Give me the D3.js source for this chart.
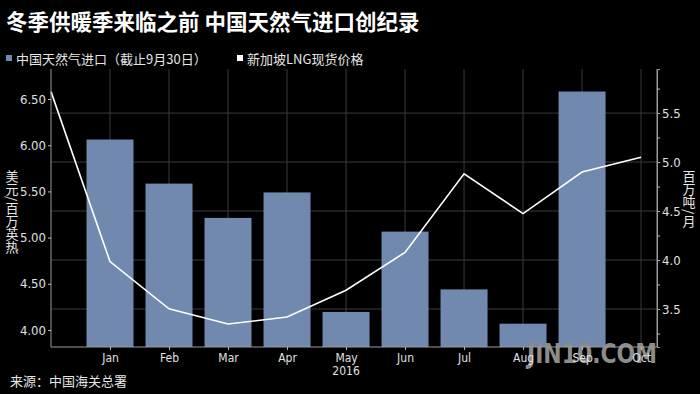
<!DOCTYPE html>
<html><head><meta charset="utf-8">
<script src="https://cdn.jsdelivr.net/npm/d3@7"></script>
<style>
html,body{margin:0;padding:0;background:#000;}
svg{display:block;}
</style></head>
<body>
<svg id="c" width="700" height="394"></svg>
<script>
// ---- data ----
const months = ["Jan","Feb","Mar","Apr","May","Jun","Jul","Aug","Sep","Oct"];
const importMonths = ["Jan","Feb","Mar","Apr","May","Jun","Jul","Aug","Sep"];
const importValues = [5.23, 4.78, 4.43, 4.69, 3.47, 4.29, 3.70, 3.35, 5.72]; // 百万吨/月 (right axis)
const priceMonths = ["Dec","Jan","Feb","Mar","Apr","May","Jun","Jul","Aug","Sep","Oct"];
const priceValues = [6.58, 4.74, 4.23, 4.065, 4.14, 4.43, 4.84, 5.69, 5.26, 5.71, 5.87]; // 美元/百万英热 (left axis)
const leftTicks = [4.00, 4.50, 5.00, 5.50, 6.00, 6.50];
const rightTicks = [3.5, 4.0, 4.5, 5.0, 5.5];
const rightMinor = [3.25, 3.75, 4.25, 4.75, 5.25, 5.75];
const title = "冬季供暖季来临之前 中国天然气进口创纪录";
const legendLabels = ["中国天然气进口（截止9月30日）", "新加坡LNG现货价格"];
const leftLabel = "美元/百万英热";
const rightLabel = "百万吨/月";
const yearLabel = "2016";
const source = "来源：中国海关总署";
const watermark = "JIN10.COM";

const allMonths = ["Dec"].concat(months);
const svg = d3.select("#c");
const L = 51, R = 657, T = 69, B = 347;
const BAR = "#7189ae";
const CJK = "'Noto Sans CJK SC','Noto Sans',sans-serif";
const NUM = "'DejaVu Sans Condensed','Liberation Sans Narrow',sans-serif";

const x = d3.scaleLinear().domain([0, 10.27]).range([L, R]);
const xi = m => x(allMonths.indexOf(m));
const yL = d3.scaleLinear().domain([3.816, 6.825]).range([B, T]);
const yR = d3.scaleLinear().domain([3.112, 5.95]).range([B, T]);

// gridlines
const g = svg.append("g");
g.selectAll("line.h").data(rightTicks).enter().append("line")
  .attr("x1", L).attr("x2", R).attr("y1", d => yR(d)).attr("y2", d => yR(d))
  .attr("stroke", "#3a3a3a").attr("stroke-width", 1);
g.selectAll("line.v").data(months).enter().append("line")
  .attr("x1", d => xi(d)).attr("x2", d => xi(d)).attr("y1", T).attr("y2", B)
  .attr("stroke", "#3a3a3a").attr("stroke-width", 1);

// bars
svg.append("g").selectAll("rect").data(importValues).enter().append("rect")
  .attr("x", (d, i) => xi(importMonths[i]) - 23.5)
  .attr("width", 47)
  .attr("y", d => yR(d))
  .attr("height", d => B - yR(d))
  .attr("fill", BAR);

// line
const line = d3.line().x((d, i) => xi(priceMonths[i])).y(d => yL(d));
svg.append("path").datum(priceValues).attr("d", line)
  .attr("fill", "none").attr("stroke", "#fff").attr("stroke-width", 1.6);

// watermark (behind axis labels)
svg.append("text").attr("x", 527).attr("y", 363).attr("fill", "#8c8c8c")
  .attr("textLength", 130).attr("lengthAdjust", "spacingAndGlyphs")
  .style("font-family", "'DejaVu Sans',sans-serif").style("font-weight", "bold").style("font-size", "26px").text(watermark);

// axes
const axL = svg.append("g").attr("transform", `translate(${L},0)`)
  .call(d3.axisLeft(yL).tickValues(leftTicks).tickFormat(d3.format(".2f")).tickSize(3).tickPadding(2));
const axR = svg.append("g").attr("transform", `translate(${R},0)`)
  .call(d3.axisRight(yR).tickValues(rightTicks).tickFormat(d3.format(".1f")).tickSize(3).tickPadding(2));
svg.append("g").attr("transform", `translate(${R},0)`)
  .call(d3.axisRight(yR).tickValues(rightMinor).tickFormat("").tickSize(3));
const axB = svg.append("g").attr("transform", `translate(0,${B})`)
  .call(d3.axisBottom(x).tickValues(months.map((m, i) => i + 1)).tickFormat((d) => months[d - 1]).tickSize(3).tickPadding(3));
[axL, axR, axB].forEach(a => {
  a.selectAll("text").attr("fill", "#e0e0e0").style("font-family", NUM);
});
svg.selectAll(".domain").attr("stroke", "#9a9a9a");
svg.selectAll(".tick line").attr("stroke", "#bbb");
axL.selectAll("text").style("font-size", "13px");
axR.selectAll("text").style("font-size", "13px");
axB.selectAll("text").style("font-size", "12px");
axL.select(".domain").attr("d", `M0,${T}V${B}`);
axR.select(".domain").attr("d", `M0,${T}V${B}`);
axB.select(".domain").attr("d", `M${L},0H${R}`);

svg.append("text").attr("x", x(5)).attr("y", 375).attr("text-anchor", "middle")
  .attr("fill", "#e0e0e0").style("font-family", NUM).style("font-size", "12px").text(yearLabel);

// axis titles (vertical)
svg.append("text").attr("x", 12).attr("y", 170)
  .attr("writing-mode", "tb").attr("fill", "#e6e6e6")
  .style("font-family", CJK).style("font-size", "13px").text(leftLabel);
svg.append("text").attr("x", 689).attr("y", 170)
  .attr("writing-mode", "tb").attr("fill", "#e6e6e6")
  .style("font-family", CJK).style("font-size", "13px").text(rightLabel);

// title
svg.append("text").attr("x", 6).attr("y", 30).attr("fill", "#fff")
  .style("font-family", CJK).style("font-weight", "bold").style("font-size", "21.5px").text(title);

// legend
const leg = [{c: BAR, x: 6, t: legendLabels[0]}, {c: "#fff", x: 237, t: legendLabels[1]}];
leg.forEach(l => {
  svg.append("rect").attr("x", l.x).attr("y", 55).attr("width", 6).attr("height", 6).attr("fill", l.c);
  svg.append("text").attr("x", l.x + 10).attr("y", 64).attr("fill", "#e6e6e6")
    .style("font-family", CJK).style("font-size", "13px").text(l.t);
});

// source
svg.append("text").attr("x", 10).attr("y", 386).attr("fill", "#e6e6e6")
  .style("font-family", CJK).style("font-size", "13px").text(source);
</script>
</body></html>
